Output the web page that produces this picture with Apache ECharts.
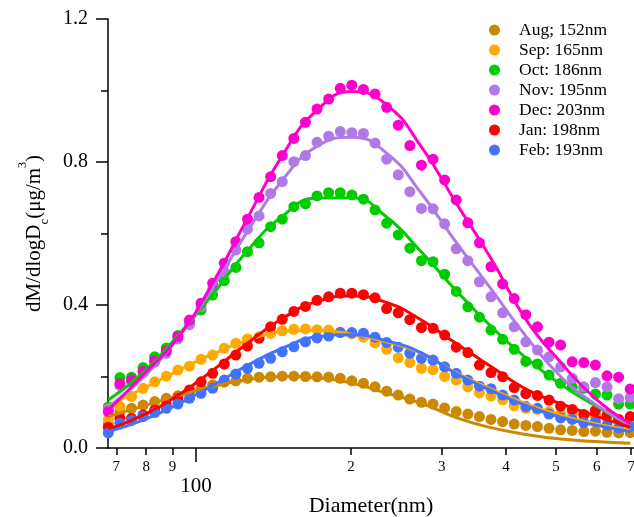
<!DOCTYPE html>
<html>
<head>
<meta charset="utf-8">
<script src="https://cdn.jsdelivr.net/npm/echarts@6/dist/echarts.min.js"></script>
<style>html,body{margin:0;padding:0;background:#fff}#c{width:634px;height:517px}</style>
</head>
<body>
<div id="c"></div>
<script>
// ---- data ----
const diameters = [67.55, 71.15, 74.93, 78.92, 83.12, 87.55, 92.21, 97.11, 102.28, 107.73, 113.46, 119.50, 125.86, 132.56, 139.62, 147.05, 154.88, 163.12, 171.80, 180.95, 190.58, 200.73, 211.41, 222.66, 234.51, 246.99, 260.14, 273.99, 288.57, 303.93, 320.11, 337.15, 355.10, 374.00, 393.91, 414.88, 436.97, 460.23, 484.73, 510.53, 537.71, 566.33, 596.48, 628.23, 661.67, 696.89];
const fitDiameters = [67.55, 78.92, 92.21, 107.73, 125.86, 147.05, 171.80, 200.73, 234.51, 273.99, 320.11, 374.00, 436.97, 510.53, 596.48, 696.89];
const monthLabels = ['Aug; 152nm', 'Sep: 165nm', 'Oct: 186nm', 'Nov: 195nm', 'Dec: 203nm', 'Jan: 198nm', 'Feb: 193nm'];

const aug = [0.068, 0.102, 0.111, 0.120, 0.130, 0.139, 0.146, 0.157, 0.167, 0.176, 0.184, 0.188, 0.195, 0.198, 0.199, 0.201, 0.201, 0.200, 0.199, 0.198, 0.195, 0.188, 0.181, 0.171, 0.159, 0.148, 0.137, 0.128, 0.123, 0.112, 0.102, 0.095, 0.088, 0.080, 0.074, 0.067, 0.063, 0.060, 0.055, 0.051, 0.049, 0.046, 0.047, 0.044, 0.042, 0.043];
const sep = [0.079, 0.116, 0.144, 0.167, 0.185, 0.201, 0.218, 0.229, 0.248, 0.260, 0.279, 0.293, 0.305, 0.311, 0.321, 0.328, 0.332, 0.333, 0.331, 0.330, 0.324, 0.319, 0.310, 0.294, 0.276, 0.252, 0.239, 0.223, 0.219, 0.200, 0.190, 0.171, 0.154, 0.145, 0.135, 0.118, 0.111, 0.108, 0.102, 0.097, 0.095, 0.090, 0.091, 0.084, 0.080, 0.082];
const oct = [0.115, 0.197, 0.198, 0.225, 0.255, 0.280, 0.315, 0.349, 0.386, 0.428, 0.468, 0.505, 0.549, 0.574, 0.619, 0.640, 0.675, 0.683, 0.705, 0.714, 0.714, 0.708, 0.696, 0.666, 0.629, 0.596, 0.559, 0.524, 0.521, 0.486, 0.438, 0.395, 0.366, 0.330, 0.304, 0.276, 0.242, 0.235, 0.204, 0.181, 0.170, 0.167, 0.151, 0.148, 0.123, 0.123];
const nov = [0.110, 0.175, 0.185, 0.210, 0.240, 0.265, 0.305, 0.345, 0.395, 0.445, 0.493, 0.554, 0.612, 0.649, 0.712, 0.745, 0.801, 0.818, 0.855, 0.872, 0.885, 0.882, 0.880, 0.853, 0.808, 0.764, 0.717, 0.670, 0.669, 0.627, 0.557, 0.524, 0.465, 0.423, 0.378, 0.339, 0.297, 0.274, 0.255, 0.227, 0.195, 0.171, 0.183, 0.171, 0.138, 0.141];
const dec = [0.102, 0.180, 0.190, 0.215, 0.245, 0.272, 0.312, 0.358, 0.405, 0.461, 0.517, 0.577, 0.640, 0.701, 0.759, 0.818, 0.866, 0.911, 0.948, 0.976, 1.006, 1.015, 1.003, 0.990, 0.953, 0.903, 0.846, 0.791, 0.808, 0.750, 0.694, 0.630, 0.574, 0.507, 0.459, 0.418, 0.373, 0.339, 0.296, 0.288, 0.241, 0.239, 0.232, 0.202, 0.198, 0.165];
const jan = [0.058, 0.083, 0.083, 0.092, 0.106, 0.120, 0.139, 0.162, 0.185, 0.209, 0.235, 0.260, 0.285, 0.307, 0.339, 0.360, 0.382, 0.396, 0.413, 0.423, 0.433, 0.433, 0.429, 0.420, 0.390, 0.378, 0.359, 0.337, 0.335, 0.316, 0.282, 0.267, 0.232, 0.211, 0.199, 0.169, 0.152, 0.147, 0.134, 0.117, 0.108, 0.094, 0.105, 0.092, 0.080, 0.088];
const feb = [0.042, 0.069, 0.077, 0.088, 0.099, 0.111, 0.123, 0.139, 0.153, 0.167, 0.190, 0.207, 0.223, 0.237, 0.251, 0.269, 0.283, 0.297, 0.308, 0.313, 0.323, 0.323, 0.321, 0.310, 0.295, 0.282, 0.265, 0.251, 0.246, 0.227, 0.209, 0.190, 0.173, 0.166, 0.148, 0.134, 0.116, 0.111, 0.095, 0.084, 0.080, 0.071, 0.074, 0.064, 0.056, 0.060];

const augFit = [0.088, 0.117, 0.146, 0.172, 0.191, 0.200, 0.196, 0.182, 0.153, 0.125, 0.085, 0.057, 0.038, 0.025, 0.018, 0.013];
const sepFit = [0.118, 0.166, 0.216, 0.263, 0.301, 0.325, 0.329, 0.318, 0.297, 0.265, 0.210, 0.165, 0.124, 0.091, 0.068, 0.050];
const octFit = [0.134, 0.211, 0.314, 0.430, 0.552, 0.648, 0.699, 0.700, 0.646, 0.548, 0.440, 0.340, 0.252, 0.178, 0.118, 0.062];
const novFit = [0.115, 0.197, 0.308, 0.448, 0.606, 0.749, 0.844, 0.869, 0.825, 0.712, 0.575, 0.445, 0.313, 0.200, 0.122, 0.064];
const decFit = [0.106, 0.204, 0.309, 0.461, 0.643, 0.818, 0.945, 0.997, 0.960, 0.842, 0.685, 0.530, 0.360, 0.240, 0.138, 0.068];
const janFit = [0.052, 0.092, 0.147, 0.217, 0.293, 0.362, 0.410, 0.425, 0.407, 0.358, 0.292, 0.228, 0.165, 0.124, 0.090, 0.058];
const febFit = [0.046, 0.078, 0.122, 0.175, 0.231, 0.279, 0.311, 0.317, 0.300, 0.266, 0.208, 0.161, 0.119, 0.086, 0.064, 0.046];

const minorTickValues = [70, 80, 90, 200, 300, 400, 500, 600, 700];
const majorTickValues = [100];

// ---- styles ----
const colors = ['#CC8800', '#FFAA00', '#00CC00', '#B07AE6', '#FF00CC', '#FF0000', '#4372FF'];
const FONT = 'Liberation Serif, Times New Roman, serif';
const black = { color: '#000', width: 1.5 };

const observed = [aug, sep, oct, nov, dec, jan, feb];
const fitted = [augFit, sepFit, octFit, novFit, decFit, janFit, febFit];

const series = [];
observed.forEach((vals, i) => {
  series.push({
    name: monthLabels[i], type: 'scatter', xAxisIndex: 0, yAxisIndex: 0,
    symbol: 'circle', symbolSize: 11, silent: true, z: 2,
    itemStyle: { color: colors[i], opacity: 1 },
    data: vals.map((v, j) => [diameters[j], v])
  });
});
fitted.forEach((vals, i) => {
  series.push({
    name: monthLabels[i] + ' fit', type: 'line', xAxisIndex: 0, yAxisIndex: 0,
    smooth: 0.5, symbol: 'none', silent: true, z: 3,
    lineStyle: { color: colors[i], width: 3 },
    data: vals.map((v, j) => [fitDiameters[j], v])
  });
});

const gridBox = { left: 108, top: 19, right: 0, bottom: 69, containLabel: false, outerBoundsMode: 'none' };

const option = {
  animation: false,
  backgroundColor: '#fff',
  grid: [Object.assign({}, gridBox), Object.assign({}, gridBox)],
  legend: {
    data: monthLabels, orient: 'vertical', left: 489, top: 20, padding: 0,
    itemWidth: 39, itemHeight: 11, itemGap: 0, icon: 'circle', selectedMode: false,
    textStyle: { fontFamily: FONT, fontSize: 17.5, color: '#000', lineHeight: 20 }
  },
  xAxis: [
    {
      type: 'log', gridIndex: 0, logBase: 10, min: 67.46, max: 708.8,
      axisLine: { show: true, onZero: false, lineStyle: black },
      axisTick: { show: true, inside: false, length: 7, customValues: minorTickValues, lineStyle: black },
      minorTick: { show: false },
      splitLine: { show: false },
      axisLabel: {
        customValues: minorTickValues, margin: 12,
        formatter: v => String(Math.round(v / (v >= 100 ? 100 : 10))),
        fontFamily: FONT, fontSize: 15, color: '#000'
      },
      name: 'Diameter(nm)', nameLocation: 'middle', nameGap: 47,
      nameTextStyle: { fontFamily: FONT, fontSize: 22, color: '#000' }
    },
    {
      type: 'log', gridIndex: 1, logBase: 10, min: 67.46, max: 708.8,
      axisLine: { show: false, onZero: false },
      axisTick: { show: true, inside: false, length: 14, customValues: majorTickValues, lineStyle: black },
      minorTick: { show: false },
      splitLine: { show: false },
      axisLabel: {
        customValues: majorTickValues, margin: 28,
        formatter: v => String(Math.round(v)),
        fontFamily: FONT, fontSize: 21, color: '#000'
      }
    }
  ],
  yAxis: [
    {
      type: 'value', gridIndex: 0, min: 0, max: 1.2, interval: 0.4,
      axisLine: { show: true, onZero: false, lineStyle: black },
      axisTick: { show: true, inside: false, length: 12, lineStyle: black },
      minorTick: { show: true, splitNumber: 2, length: 7, lineStyle: black },
      splitLine: { show: false },
      axisLabel: { formatter: v => v.toFixed(1), margin: 20, fontFamily: FONT, fontSize: 20, color: '#000' },
      name: 'dM/dlogD{sub|c}(μg/m{sup|3})', nameLocation: 'middle', nameGap: 57, nameRotate: 90,
      nameTextStyle: {
        fontFamily: FONT, fontSize: 21, color: '#000', lineHeight: 34,
        rich: {
          sub: { fontFamily: FONT, fontSize: 13, lineHeight: 13, verticalAlign: 'bottom', color: '#000' },
          sup: { fontFamily: FONT, fontSize: 12, lineHeight: 12, verticalAlign: 'top', color: '#000' }
        }
      }
    },
    { type: 'value', gridIndex: 1, min: 0, max: 1.2, show: false }
  ],
  series: series
};

const chart = echarts.init(document.getElementById('c'), null, { renderer: 'canvas' });
chart.setOption(option);
</script>
</body>
</html>
